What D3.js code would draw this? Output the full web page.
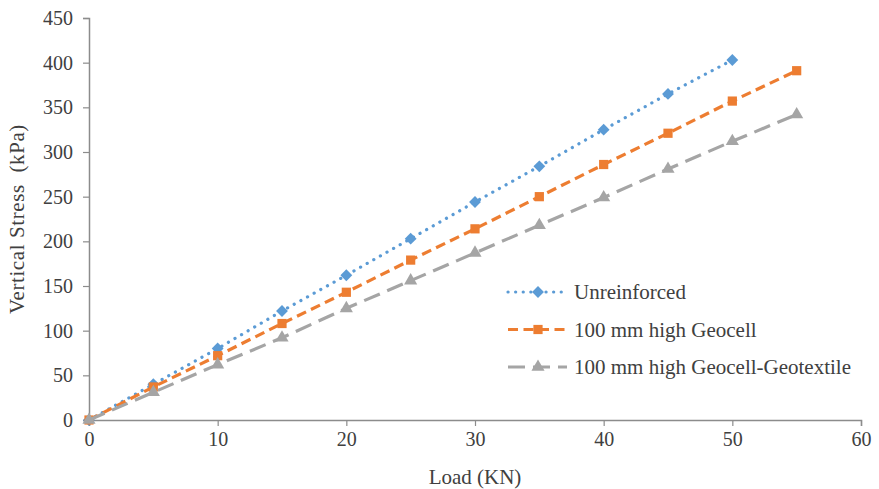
<!DOCTYPE html>
<html>
<head>
<meta charset="utf-8">
<script src="https://cdn.jsdelivr.net/npm/d3@7"></script>
<style>
  html, body { margin: 0; padding: 0; background: #fff; }
  svg { display: block; font-family: "Liberation Serif", "Times New Roman", serif; }
</style>
</head>
<body>
<svg id="chart" width="879" height="489"></svg>
<script>
// Load (KN) vs vertical stress (kPa) for three test configurations
const loadUnreinforced = [0, 5, 10, 15, 20, 25, 30, 35, 40, 45, 50];
const stressUnreinforced = [0, 40, 80, 122, 162, 203, 244, 284, 325, 365, 403];

const loadGeocell = [0, 5, 10, 15, 20, 25, 30, 35, 40, 45, 50, 55];
const stressGeocell = [0, 37, 72, 108, 143, 179, 214, 250, 286, 321, 357, 391];

const loadGeotextile = [0, 5, 10, 15, 20, 25, 30, 35, 40, 45, 50, 55];
const stressGeotextile = [0, 31, 62, 92, 125, 156, 187, 218, 249, 281, 312, 342];

const seriesNames = ["Unreinforced", "100 mm high Geocell", "100 mm high Geocell-Geotextile"];
const xTicks = [0, 10, 20, 30, 40, 50, 60];
const yTicks = [0, 50, 100, 150, 200, 250, 300, 350, 400, 450];

const svg = d3.select("#chart");
const plot = { left: 89, right: 861, top: 18, bottom: 420 };

const x = d3.scaleLinear().domain([0, 60]).range([plot.left, plot.right]);
const y = d3.scaleLinear().domain([0, 450]).range([plot.bottom, plot.top]);

const axisColor = "#8c8c8c";
const textColor = "#404040";

// Axes
const xAxis = svg.append("g")
  .attr("transform", `translate(0,${plot.bottom})`)
  .call(d3.axisBottom(x).tickValues(xTicks).tickSize(6).tickPadding(6).tickFormat(d3.format("d")));
const yAxis = svg.append("g")
  .attr("transform", `translate(${plot.left},0)`)
  .call(d3.axisLeft(y).tickValues(yTicks).tickSize(6).tickPadding(10).tickFormat(d3.format("d")));

[xAxis, yAxis].forEach(g => {
  g.select(".domain").attr("stroke", axisColor).attr("stroke-width", 1.5);
  g.selectAll(".tick line").attr("stroke", axisColor).attr("stroke-width", 1.2);
  g.selectAll(".tick text").attr("fill", textColor).style("font-size", "20px")
    .style("font-family", "'Liberation Serif', 'Times New Roman', serif");
});

// Axis titles
svg.append("text")
  .attr("x", (plot.left + plot.right) / 2).attr("y", 484)
  .attr("text-anchor", "middle").attr("fill", textColor)
  .style("font-size", "21px").text("Load (KN)");
svg.append("text")
  .attr("transform", `translate(24,${(plot.top + plot.bottom) / 2}) rotate(-90)`)
  .attr("text-anchor", "middle").attr("fill", textColor)
  .style("font-size", "21px").style("letter-spacing", "0.6px")
  .style("white-space", "pre")
  .text("Vertical Stress  (kPa)");

// Excel-style diamond: a square turned 45 degrees
const diamond = {
  draw(ctx, size) {
    const r = Math.sqrt(size / 2);
    ctx.moveTo(0, -r); ctx.lineTo(r, 0); ctx.lineTo(0, r); ctx.lineTo(-r, 0); ctx.closePath();
  }
};

const series = [
  { name: seriesNames[0], xs: loadUnreinforced, ys: stressUnreinforced, color: "#5b9bd5",
    dash: "0.1 7.5", cap: "round", width: 3.2, symbol: diamond, size: 70 },
  { name: seriesNames[1], xs: loadGeocell, ys: stressGeocell, color: "#ed7d31",
    dash: "10 5.5", cap: "butt", width: 3.2, symbol: d3.symbolSquare, size: 85 },
  { name: seriesNames[2], xs: loadGeotextile, ys: stressGeotextile, color: "#a5a5a5",
    dash: "17 8", cap: "butt", width: 3.2, symbol: d3.symbolTriangle, size: 75 }
];

const line = d3.line().x(d => x(d[0])).y(d => y(d[1]));

series.forEach(s => {
  const pts = s.xs.map((v, i) => [v, s.ys[i]]);
  svg.append("path")
    .datum(pts)
    .attr("d", line)
    .attr("fill", "none")
    .attr("stroke", s.color)
    .attr("stroke-width", s.width)
    .attr("stroke-dasharray", s.dash)
    .attr("stroke-linecap", s.cap);
  svg.append("g").selectAll("path")
    .data(pts).join("path")
    .attr("transform", d => `translate(${x(d[0])},${y(d[1])})`)
    .attr("d", d3.symbol().type(s.symbol).size(s.size))
    .attr("fill", s.color);
});

// Legend
const legend = svg.append("g").attr("transform", "translate(508,292)");
series.forEach((s, i) => {
  const g = legend.append("g").attr("transform", `translate(0,${i * 37.5})`);
  g.append("line")
    .attr("x1", 0).attr("x2", 59).attr("y1", 0).attr("y2", 0)
    .attr("stroke", s.color).attr("stroke-width", s.width)
    .attr("stroke-dasharray", s.dash).attr("stroke-linecap", s.cap);
  g.append("path")
    .attr("transform", "translate(30,0)")
    .attr("d", d3.symbol().type(s.symbol).size(s.size))
    .attr("fill", s.color);
  g.append("text")
    .attr("x", 66).attr("y", 0).attr("dy", "0.35em")
    .attr("fill", textColor).style("font-size", "21px")
    .text(s.name);
});
</script>
</body>
</html>
